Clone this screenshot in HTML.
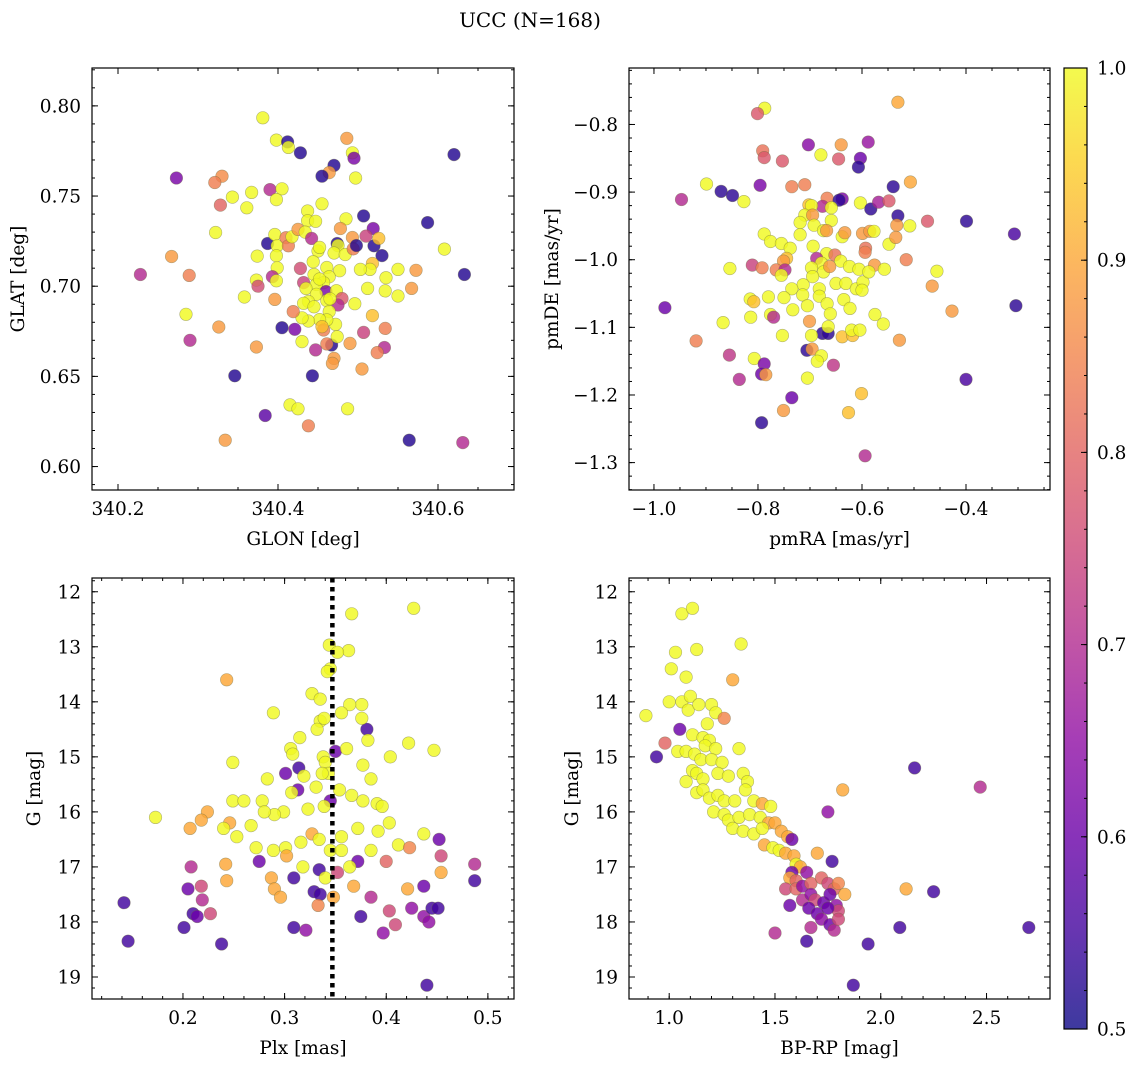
<!DOCTYPE html>
<html><head><meta charset="utf-8">
<style>
html,body{margin:0;padding:0;background:#fff;}
svg{display:block;font-family:"DejaVu Serif","Liberation Serif",serif;}
</style></head>
<body>
<svg id="fig" width="1136" height="1067" viewBox="0 0 1136 1067" xmlns="http://www.w3.org/2000/svg">
<text x="530" y="27" font-size="20" text-anchor="middle">UCC (N=168)</text>
</svg>
<script>
// ---------- Panel 1 data: GLON / GLAT / probability ----------
const glon = [340.381,340.398,340.412,340.413,340.428,340.486,340.493,340.495,340.470,340.464,340.455,340.497,340.620,340.273,340.330,340.321,340.328,340.343,340.367,340.361,340.390,340.405,340.398,340.455,340.437,340.437,340.447,340.485,340.507,340.478,340.519,340.587,340.608,340.633,340.228,340.267,340.289,340.322,340.285,340.290,340.326,340.346,340.358,340.373,340.374,340.373,340.375,340.387,340.396,340.399,340.398,340.399,340.393,340.398,340.396,340.410,340.413,340.4175,340.425,340.434,340.442,340.450,340.452,340.474,340.475,340.470,340.484,340.493,340.494,340.498,340.510,340.520,340.526,340.530,340.518,340.515,340.503,340.477,340.461,340.444,340.428,340.445,340.464,340.457,340.448,340.432,340.435,340.460,340.473,340.448,340.480,340.475,340.461,340.438,340.432,340.445,340.496,340.512,340.535,340.550,340.5725,340.534,340.550,340.567,340.518,340.534,340.507,340.533,340.524,340.490,340.505,340.470,340.468,340.467,340.461,340.474,340.472,340.464,340.461,340.452,340.457,340.455,340.438,340.430,340.419,340.430,340.447,340.443,340.421,340.405,340.415,340.425,340.438,340.384,340.487,340.334,340.564,340.631,340.452,340.465];
const glat = [0.7934,0.781,0.780,0.777,0.774,0.782,0.774,0.771,0.767,0.763,0.761,0.760,0.773,0.760,0.761,0.7575,0.745,0.7494,0.752,0.7435,0.7536,0.754,0.748,0.7457,0.7417,0.7363,0.736,0.7374,0.739,0.732,0.732,0.7353,0.7206,0.7065,0.7065,0.7165,0.706,0.7298,0.6844,0.670,0.6774,0.6503,0.694,0.6663,0.7167,0.7034,0.700,0.7237,0.7287,0.7224,0.7169,0.7102,0.7053,0.703,0.6927,0.7269,0.7224,0.7274,0.7315,0.730,0.7265,0.7195,0.7215,0.7237,0.7225,0.7184,0.7176,0.727,0.7207,0.7226,0.7278,0.7224,0.7265,0.717,0.7126,0.7093,0.7093,0.7086,0.7104,0.7136,0.7099,0.7065,0.7053,0.702,0.701,0.702,0.6988,0.697,0.6975,0.6955,0.6932,0.6896,0.692,0.6915,0.6905,0.6886,0.6903,0.6988,0.7047,0.7093,0.7088,0.6974,0.6946,0.6988,0.6837,0.6766,0.6744,0.666,0.6632,0.6683,0.6541,0.660,0.6572,0.6674,0.668,0.672,0.6788,0.6859,0.6813,0.6815,0.6757,0.6776,0.6807,0.6825,0.6859,0.6693,0.6647,0.6503,0.6761,0.677,0.6342,0.632,0.6226,0.6283,0.632,0.6146,0.6146,0.6133,0.704,0.693];
const prob1 = [1,1,0.52,1,0.52,0.88,1,0.62,0.52,0.88,0.52,1,0.52,0.62,0.86,0.84,0.8,1,1,1,0.7,1,1,1,1,1,1,1,0.52,0.88,0.62,0.52,1,0.52,0.7,0.88,0.84,1,1,0.7,0.88,0.52,1,0.88,1,1,0.76,0.52,1,1,1,1,0.7,1,0.88,0.84,0.84,1,0.88,1,0.7,1,1,0.52,1,1,1,0.88,0.84,0.52,0.74,0.52,0.93,0.52,0.93,1,1,1,1,1,0.76,1,1,1,1,0.74,1,0.62,1,1,0.78,0.7,1,1,1,1,1,1,1,1,0.88,1,1,0.88,0.93,0.84,0.74,0.7,0.84,0.88,0.88,0.88,0.88,0.52,0.84,1,1,1,1,1,0.84,0.93,1,1,0.84,1,0.7,0.52,0.62,0.52,1,1,0.84,0.58,1,0.88,0.52,0.7,1,1];

// ---------- Panel 2 data: pmRA / pmDE / probability ----------
const pmra = [-0.787,-0.801,-0.531,-0.703,-0.640,-0.588,-0.679,-0.791,-0.788,-0.753,-0.645,-0.603,-0.607,-0.899,-0.947,-0.871,-0.849,-0.827,-0.796,-0.735,-0.710,-0.507,-0.540,-0.667,-0.638,-0.644,-0.676,-0.702,-0.697,-0.603,-0.583,-0.568,-0.548,-0.531,-0.533,-0.508,-0.474,-0.399,-0.307,-0.659,-0.710,-0.719,-0.695,-0.659,-0.692,-0.674,-0.668,-0.719,-0.788,-0.776,-0.755,-0.738,-0.694,-0.638,-0.633,-0.599,-0.585,-0.577,-0.548,-0.535,-0.593,-0.594,-0.668,-0.652,-0.687,-0.745,-0.751,-0.678,-0.641,-0.624,-0.606,-0.576,-0.557,-0.515,-0.456,-0.465,-0.427,-0.304,-0.979,-0.854,-0.811,-0.792,-0.765,-0.748,-0.755,-0.697,-0.674,-0.662,-0.695,-0.713,-0.735,-0.682,-0.650,-0.631,-0.611,-0.598,-0.587,-0.600,-0.682,-0.714,-0.750,-0.780,-0.815,-0.808,-0.705,-0.667,-0.635,-0.623,-0.661,-0.733,-0.776,-0.770,-0.814,-0.867,-0.919,-0.855,-0.836,-0.807,-0.788,-0.793,-0.785,-0.735,-0.751,-0.793,-0.701,-0.676,-0.665,-0.665,-0.697,-0.753,-0.706,-0.696,-0.678,-0.686,-0.655,-0.705,-0.638,-0.618,-0.620,-0.604,-0.575,-0.559,-0.528,-0.601,-0.626,-0.400,-0.594];
const pmde = [-0.776,-0.784,-0.767,-0.830,-0.830,-0.826,-0.845,-0.839,-0.849,-0.854,-0.851,-0.850,-0.863,-0.888,-0.911,-0.899,-0.905,-0.914,-0.890,-0.892,-0.889,-0.885,-0.892,-0.909,-0.910,-0.912,-0.921,-0.919,-0.920,-0.916,-0.925,-0.915,-0.913,-0.935,-0.949,-0.950,-0.943,-0.943,-0.962,-0.923,-0.934,-0.945,-0.934,-0.942,-0.949,-0.957,-0.957,-0.963,-0.962,-0.973,-0.976,-0.983,-0.980,-0.966,-0.960,-0.961,-0.958,-0.958,-0.977,-0.967,-0.983,-0.989,-0.991,-0.993,-0.998,-0.998,-1.002,-1.005,-1.002,-1.010,-1.014,-1.008,-1.014,-1.000,-1.017,-1.039,-1.076,-1.068,-1.071,-1.013,-1.008,-1.012,-1.015,-1.015,-1.023,-1.012,-1.018,-1.010,-1.025,-1.037,-1.043,-1.043,-1.035,-1.035,-1.043,-1.033,-1.018,-1.045,-1.054,-1.052,-1.056,-1.055,-1.058,-1.062,-1.068,-1.065,-1.059,-1.072,-1.080,-1.074,-1.081,-1.085,-1.085,-1.093,-1.120,-1.141,-1.177,-1.146,-1.154,-1.169,-1.170,-1.204,-1.223,-1.241,-1.091,-1.109,-1.109,-1.099,-1.112,-1.112,-1.134,-1.132,-1.142,-1.150,-1.156,-1.175,-1.114,-1.112,-1.104,-1.104,-1.081,-1.095,-1.119,-1.198,-1.226,-1.177,-1.290];
const prob2 = [1,0.78,0.9,0.64,0.88,0.66,1,0.82,0.78,0.78,0.78,0.6,0.53,1,0.7,0.53,0.53,1,0.62,0.84,0.84,0.9,0.53,0.84,0.62,0.53,0.7,0.93,1,1,0.53,0.68,0.78,0.53,0.88,1,0.78,0.53,0.56,1,1,1,0.88,1,1,1,0.88,1,1,1,1,1,1,1,0.88,0.88,0.88,1,1,0.88,0.82,0.84,1,0.82,0.7,0.93,0.88,1,1,1,1,0.88,1,0.84,1,0.88,0.88,0.53,0.6,1,0.74,0.84,0.84,0.7,1,1,1,0.88,1,1,1,1,1,1,1,1,1,1,1,1,1,1,1,0.93,1,1,1,1,1,1,1,0.7,1,1,0.84,0.72,0.7,1,0.62,0.6,0.88,0.6,0.88,0.53,0.88,0.53,0.53,1,1,1,0.53,0.88,1,1,0.72,1,0.93,0.93,1,1,1,1,0.88,0.93,0.93,0.56,0.7];

// ---------- Panel 3 data: Plx / G / probability ----------
const plx = [0.427,0.366,0.344,0.363,0.352,0.345,0.342,0.243,0.327,0.335,0.376,0.364,0.356,0.289,0.335,0.339,0.381,0.376,0.332,0.315,0.306,0.308,0.350,0.361,0.382,0.447,0.404,0.422,0.338,0.340,0.377,0.343,0.385,0.314,0.319,0.313,0.283,0.249,0.249,0.260,0.278,0.307,0.331,0.337,0.354,0.366,0.377,0.391,0.396,0.345,0.339,0.323,0.299,0.290,0.280,0.267,0.246,0.224,0.218,0.207,0.173,0.240,0.253,0.272,0.289,0.301,0.302,0.316,0.327,0.334,0.345,0.356,0.356,0.372,0.392,0.403,0.412,0.423,0.437,0.452,0.454,0.400,0.385,0.372,0.364,0.352,0.334,0.318,0.275,0.242,0.208,0.487,0.454,0.487,0.243,0.287,0.309,0.290,0.329,0.335,0.333,0.348,0.368,0.385,0.421,0.437,0.425,0.437,0.445,0.451,0.403,0.397,0.409,0.442,0.210,0.214,0.219,0.218,0.205,0.227,0.142,0.146,0.201,0.238,0.309,0.321,0.375,0.440,0.296,0.340,0.301];
const gmag3 = [12.3,12.4,12.97,13.07,13.1,13.4,13.45,13.6,13.85,13.95,14.05,14.05,14.2,14.2,14.35,14.3,14.5,14.3,14.5,14.65,14.85,14.95,14.9,14.85,14.7,14.88,15.0,14.75,15.0,15.1,15.15,15.3,15.4,15.2,15.35,15.6,15.4,15.1,15.8,15.8,15.8,15.65,15.55,15.3,15.6,15.7,15.8,15.85,15.9,15.8,15.9,15.95,16.0,16.05,16.0,16.25,16.2,16.0,16.15,16.3,16.1,16.3,16.45,16.65,16.7,16.65,16.8,16.55,16.4,16.5,16.7,16.45,16.7,16.3,16.35,16.2,16.6,16.65,16.4,16.5,16.8,16.9,16.7,16.9,17.0,17.1,17.05,17.0,16.9,16.95,17.0,16.95,17.1,17.25,17.25,17.2,17.2,17.4,17.45,17.5,17.7,17.55,17.35,17.55,17.4,17.35,17.75,17.9,17.75,17.75,17.8,18.2,18.05,18.0,17.85,17.9,17.6,17.35,17.4,17.85,17.65,18.35,18.1,18.4,18.1,18.15,17.9,19.15,17.55,17.2,15.3];
const prob3 = [1,1,1,1,1,1,1,0.9,1,1,1,1,1,1,1,1,0.55,1,1,1,1,1,0.6,1,1,1,1,1,1,1,1,1,1,0.55,1,0.6,1,1,1,1,1,1,1,1,1,1,1,1,1,0.6,1,1,1,1,1,1,0.9,0.9,0.9,0.9,1,1,1,1,1,1,0.9,1,0.9,1,1,1,1,1,1,1,1,0.85,1,0.6,0.75,0.8,1,0.6,1,0.75,0.55,1,0.6,0.9,0.7,0.7,0.9,0.55,0.9,0.9,0.55,0.9,0.55,0.55,0.85,0.9,0.9,0.7,0.9,0.6,0.65,0.65,0.55,0.55,0.75,0.65,0.75,0.65,0.55,0.6,0.7,0.75,0.6,0.75,0.55,0.55,0.55,0.55,0.55,0.65,0.55,0.55,0.9,1,0.6];

// ---------- Panel 4 data: BP-RP / G / probability ----------
const bprp = [1.06,1.11,1.03,1.13,1.34,1.01,1.08,1.30,1.00,1.06,1.10,1.09,1.14,1.20,1.22,1.18,1.26,1.05,1.11,1.16,1.19,1.17,1.22,1.33,0.89,0.94,0.98,1.04,1.08,1.12,1.15,1.20,1.25,1.08,1.11,1.13,1.16,1.23,1.28,1.35,1.37,1.13,1.16,1.19,1.23,1.26,1.31,1.36,1.40,1.44,1.48,1.21,1.26,1.28,1.33,1.38,1.43,1.47,1.50,1.30,1.35,1.40,1.44,1.53,1.56,1.58,1.45,1.49,1.52,1.55,1.59,1.60,1.62,1.58,1.65,1.70,1.75,1.82,2.16,2.47,1.77,1.57,1.60,1.55,1.60,1.63,1.67,1.72,1.75,1.78,1.80,1.83,1.57,1.63,1.67,1.69,1.73,1.76,1.79,1.80,1.66,1.70,1.72,1.75,1.76,1.78,1.80,1.50,1.65,1.67,1.94,2.09,2.12,2.25,2.70,1.87];
const gmag4 = [12.4,12.3,13.1,13.05,12.95,13.4,13.55,13.6,14.0,14.0,13.9,14.15,14.05,14.05,14.2,14.4,14.3,14.5,14.6,14.65,14.7,14.8,14.85,14.85,14.25,15.0,14.75,14.9,14.9,14.95,15.05,15.05,15.1,15.45,15.25,15.3,15.4,15.3,15.35,15.3,15.45,15.65,15.6,15.75,15.7,15.8,15.8,15.6,15.8,15.85,15.9,16.0,16.05,16.15,16.1,16.05,16.1,16.2,16.2,16.3,16.35,16.4,16.3,16.35,16.45,16.5,16.6,16.65,16.7,16.75,16.8,16.95,17.0,17.1,17.1,16.75,16.0,15.6,15.2,15.55,16.9,17.2,17.25,17.4,17.4,17.35,17.3,17.2,17.3,17.4,17.3,17.5,17.7,17.6,17.5,17.6,17.65,17.5,17.7,17.8,17.75,17.85,17.95,17.75,18.05,18.15,17.95,18.2,18.35,18.1,18.4,18.1,17.4,17.45,18.1,19.15];
const prob4 = [1,1,1,1,1,1,1,0.9,1,1,1,1,1,1,1,1,0.85,0.6,1,1,1,1,1,1,1,0.55,0.8,1,1,1,1,1,1,1,1,1,1,1,1,1,1,1,1,1,1,1,1,1,1,0.9,1,1,1,1,1,1,1,0.9,0.9,1,1,1,1,0.9,0.9,0.6,0.9,1,1,0.9,0.9,1,0.9,0.6,0.65,0.9,0.65,0.9,0.55,0.7,0.55,0.9,0.8,0.75,0.8,0.65,0.8,0.8,0.75,0.8,0.85,0.9,0.6,0.7,0.65,0.75,0.6,0.6,0.65,0.75,0.6,0.6,0.65,0.6,0.6,0.7,0.75,0.7,0.55,0.7,0.55,0.55,0.9,0.55,0.55,0.55];

// ---------- Tick arrays ----------
const p1XTicks = [340.2,340.4,340.6], p1YTicks = [0.60,0.65,0.70,0.75,0.80];
const p2XTicks = [-1.0,-0.8,-0.6,-0.4], p2YTicks = [-1.3,-1.2,-1.1,-1.0,-0.9,-0.8];
const p3XTicks = [0.2,0.3,0.4,0.5], gTicks = [12,13,14,15,16,17,18,19];
const p4XTicks = [1.0,1.5,2.0,2.5];
const cbTicks = [0.5,0.6,0.7,0.8,0.9,1.0];
const plxMedian = 0.347;

const FS = 18.5;
const NS = "http://www.w3.org/2000/svg";
const svg = document.getElementById('fig');
function mk(tag, attrs, parent){ const e=document.createElementNS(NS,tag); for(const k in attrs) e.setAttribute(k,attrs[k]); (parent||svg).appendChild(e); return e; }

const plasma = ["#0d0887","#41049d","#6a00a8","#8f0da4","#b12a90","#cc4778","#e16462","#f2844b","#fca636","#fcce25","#f0f921"];
function hex(h){return [parseInt(h.substr(1,2),16),parseInt(h.substr(3,2),16),parseInt(h.substr(5,2),16)];}
function cmap(v){
  let t=(v-0.5)/0.5; t=Math.max(0,Math.min(1,t));
  const f=t*10, i=Math.min(9,Math.floor(f)), r=f-i;
  const a=hex(plasma[i]), b=hex(plasma[i+1]);
  return "rgb("+a.map((c,k)=>Math.round(c+(b[k]-c)*r)).join(",")+")";
}
function fmt(v,d){ const s=v.toFixed(d); return v<0 ? "\u2212"+s.slice(1) : s; }

function panel(cfg){
  const g = mk('g',{});
  
  
  const {L,T,W,H} = cfg;
  const sx = v => L + (v-cfg.x0)/(cfg.x1-cfg.x0)*W;
  const sy = cfg.invert ? (v => T + (v-cfg.y0)/(cfg.y1-cfg.y0)*H) : (v => T + H - (v-cfg.y0)/(cfg.y1-cfg.y0)*H);
  const cid = 'clip-'+cfg.name;
  const cp = mk('clipPath',{id:cid}, g); mk('rect',{x:L,y:T,width:W,height:H},cp);
  const pts = mk('g',{'clip-path':'url(#'+cid+')'}, g);
  
  
  for(let i=0;i<cfg.xs.length;i++){
    const c = mk('circle',{cx:sx(cfg.xs[i]).toFixed(1),cy:sy(cfg.ys[i]).toFixed(1),r:6.3,fill:cmap(cfg.cs[i]),'fill-opacity':0.82,stroke:'#6b6b40','stroke-opacity':0.5,'stroke-width':0.6}, pts);
    
    
  }
  if(cfg.vline!==undefined){
    const ln = mk('line',{x1:sx(cfg.vline),x2:sx(cfg.vline),y1:T,y2:T+H,stroke:'#000','stroke-width':4.5,'stroke-dasharray':'4.5,4.5'}, g);
    
    
  }
  mk('rect',{x:L,y:T,width:W,height:H,fill:'none',stroke:'#000','stroke-width':1.2}, g);
  const tk = mk('g',{stroke:'#000','stroke-width':1}, g);
  const eps=1e-9;
  for(let v=Math.ceil(cfg.x0/cfg.xmin-eps)*cfg.xmin; v<=cfg.x1+eps; v+=cfg.xmin){
    const x=sx(v); mk('line',{x1:x,x2:x,y1:T+H,y2:T+H-3},tk); mk('line',{x1:x,x2:x,y1:T,y2:T+3},tk);
  }
  const ymn=Math.min(cfg.y0,cfg.y1), ymx=Math.max(cfg.y0,cfg.y1);
  for(let v=Math.ceil(ymn/cfg.ymin-eps)*cfg.ymin; v<=ymx+eps; v+=cfg.ymin){
    const y=sy(v); mk('line',{x1:L,x2:L+3,y1:y,y2:y},tk); mk('line',{x1:L+W,x2:L+W-3,y1:y,y2:y},tk);
  }
  cfg.xticks.forEach(v=>{
    const x=sx(v); mk('line',{x1:x,x2:x,y1:T+H,y2:T+H-6},tk); mk('line',{x1:x,x2:x,y1:T,y2:T+6},tk);
    const t=mk('text',{x:x,y:T+H+25,'font-size':FS,'text-anchor':'middle'},g); t.textContent=fmt(v,cfg.xd);
     
  });
  cfg.yticks.forEach(v=>{
    const y=sy(v); mk('line',{x1:L,x2:L+6,y1:y,y2:y},tk); mk('line',{x1:L+W,x2:L+W-6,y1:y,y2:y},tk);
    const t=mk('text',{x:L-11,y:y+6.5,'font-size':FS,'text-anchor':'end'},g); t.textContent=fmt(v,cfg.yd);
     
  });
  const xl=mk('text',{x:L+W/2,y:T+H+55,'font-size':FS,'text-anchor':'middle'},g); xl.textContent=cfg.xlabel;
   
  const yl=mk('text',{x:0,y:0,'font-size':FS,'text-anchor':'middle',transform:'translate('+cfg.ylx+','+(T+H/2)+') rotate(-90)'},g); yl.textContent=cfg.ylabel;
   
}

panel({name:'glon-glat-panel',L:92,T:68,W:422,H:422,x0:340.1675,x1:340.695,y0:0.587,y1:0.821,xs:glon,ys:glat,cs:prob1,xticks:p1XTicks,yticks:p1YTicks,xmin:0.05,ymin:0.01,xd:1,yd:2,xlabel:'GLON [deg]',ylabel:'GLAT [deg]',ylx:24});
panel({name:'pm-panel',L:629,T:68,W:421,H:422,x0:-1.048,x1:-0.2385,y0:-1.3405,y1:-0.7165,xs:pmra,ys:pmde,cs:prob2,xticks:p2XTicks,yticks:p2YTicks,xmin:0.05,ymin:0.02,xd:1,yd:1,xlabel:'pmRA [mas/yr]',ylabel:'pmDE [mas/yr]',ylx:558});
panel({name:'plx-g-panel',L:92,T:578,W:422,H:421,x0:0.1105,x1:0.5257,y0:11.75,y1:19.4,invert:true,xs:plx,ys:gmag3,cs:prob3,xticks:p3XTicks,yticks:gTicks,xmin:0.02,ymin:0.2,xd:1,yd:0,xlabel:'Plx [mas]',ylabel:'G [mag]',ylx:40,vline:plxMedian});
panel({name:'cmd-panel',L:629,T:578,W:421,H:421,x0:0.81,x1:2.80,y0:11.75,y1:19.4,invert:true,xs:bprp,ys:gmag4,cs:prob4,xticks:p4XTicks,yticks:gTicks,xmin:0.1,ymin:0.2,xd:1,yd:0,xlabel:'BP-RP [mag]',ylabel:'G [mag]',ylx:578});

// ---------- Colorbar ----------
(function(){
  const L=1064,T=68,W=23,H=961;
  const g=mk('g',{});
  
  
  const defs=mk('defs',{},g);
  const lg=mk('linearGradient',{id:'cbgrad',x1:0,y1:1,x2:0,y2:0},defs);
  plasma.forEach((c,i)=>mk('stop',{offset:(i/10),'stop-color':c,'stop-opacity':0.8},lg));
  mk('rect',{x:L,y:T,width:W,height:H,fill:'url(#cbgrad)'},g);
  mk('rect',{x:L,y:T,width:W,height:H,fill:'none',stroke:'#000','stroke-width':1.2},g);
  const sy=v=>T+H-(v-0.5)/0.5*H;
  for(let v=0.5; v<=1.0001; v+=0.02){ const y=sy(v); mk('line',{x1:L+W,x2:L+W-3,y1:y,y2:y,stroke:'#000'},g); }
  cbTicks.forEach(v=>{
    const y=sy(v); mk('line',{x1:L+W,x2:L+W-6,y1:y,y2:y,stroke:'#000'},g);
    const t=mk('text',{x:L+W+10,y:y+6.5,'font-size':FS},g); t.textContent=v.toFixed(1);
     
  });
})();
</script>
</body></html>
